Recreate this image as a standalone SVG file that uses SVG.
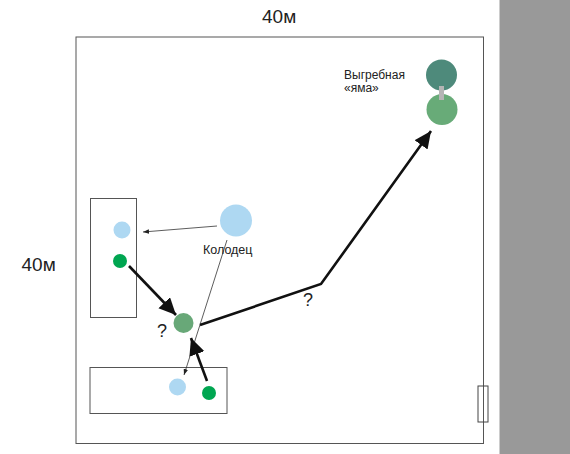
<svg xmlns="http://www.w3.org/2000/svg" width="570" height="454" viewBox="0 0 570 454">
<defs>
<marker id="big" markerUnits="userSpaceOnUse" markerWidth="18" markerHeight="18" refX="17" refY="8" orient="auto"><path d="M0 0L17 8L0 16Z" fill="#111"/></marker>
<marker id="small" markerUnits="userSpaceOnUse" markerWidth="7" markerHeight="6" refX="6" refY="3" orient="auto"><path d="M0 .8L6 3L0 5.2Z" fill="#222"/></marker>
</defs>
<style>
text{font-family:"Liberation Sans",Arial,sans-serif;fill:#222}
.box{fill:none;stroke:#555;stroke-width:1}
.thick{fill:none;stroke:#111;stroke-width:2.6;marker-end:url(#big)}
.thin{fill:none;stroke:#333;stroke-width:.8;marker-end:url(#small)}
.blue{fill:#aed8f2}.green{fill:#00a651}
</style>
<rect width="570" height="454" fill="#fff"/>
<rect x="499.500" y="0" width="70.500" height="454" fill="#999"/>
<g id="plot"><rect class="box" x="76" y="37" width="407.500" height="406.500"/></g>
<g id="house1"><rect class="box" x="90.500" y="198.500" width="46" height="119"/></g>
<g id="house2"><rect class="box" x="90" y="367.500" width="137" height="46"/></g>
<g id="gate"><rect x="478" y="386" width="10" height="36" fill="none" stroke="#444" stroke-width="1"/></g>
<g id="connectors">
<path class="thin" d="M217 226L143 232"/>
<path class="thin" d="M227 240L184 375"/>
<path class="thick" d="M129 266L176 315"/>
<path class="thick" d="M207 381L191 338"/>
<path class="thick" d="M200 325L321 284L431 131"/>
</g>
<g id="pit"><circle cx="441.500" cy="75" r="15.500" fill="#4e8a7b"/><circle cx="442" cy="109.500" r="15.500" fill="#68ab78"/><rect x="439" y="86" width="5" height="14" fill="#b5b5b5"/>
<text x="344" y="79" font-size="12">Выгребная</text><text x="344" y="92" font-size="12">«яма»</text></g>
<g id="well"><circle class="blue" cx="236" cy="220.500" r="16"/><text x="203" y="254" font-size="12.500">Колодец</text></g>
<g id="n1"><circle class="blue" cx="122" cy="230" r="8.500"/></g>
<g id="n2"><circle class="green" cx="120" cy="261" r="7"/></g>
<g id="n3"><circle class="blue" cx="177.500" cy="387" r="8.500"/></g>
<g id="n4"><circle class="green" cx="209" cy="393" r="7"/></g>
<g id="n5"><circle cx="183.500" cy="323" r="10" fill="#68a878"/></g>
<text x="262" y="23" font-size="19">40м</text>
<text x="21.500" y="271" font-size="19">40м</text>
<text x="157" y="337" font-size="18">?</text>
<text x="303" y="306" font-size="18">?</text>
</svg>
